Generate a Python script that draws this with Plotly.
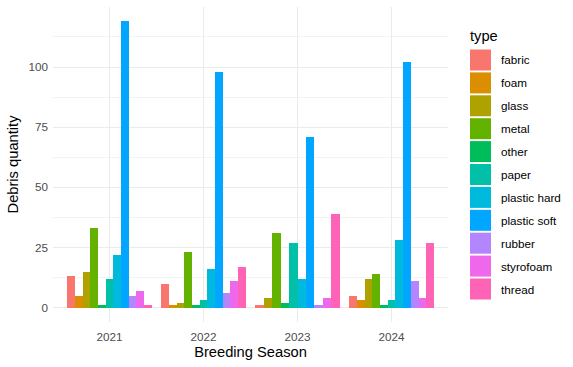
import plotly.graph_objects as go

years = [2021, 2022, 2023, 2024]
types = ["fabric", "foam", "glass", "metal", "other", "paper",
         "plastic hard", "plastic soft", "rubber", "styrofoam", "thread"]
colors = ["#F8766D", "#DB8E00", "#AEA200", "#64B200", "#00BD5C", "#00C1A7",
          "#00BADE", "#00A6FF", "#B385FF", "#EF67EB", "#FF63B6"]

# values per type, in year order (None = type not recorded that season)
fabric = [13, 10, 1, 5]
foam = [5, 1, None, 3]
glass = [15, 2, 4, 12]
metal = [33, 23, 31, 14]
other = [1, 1, 2, 1]
paper = [12, 3, 27, 3]
plastic_hard = [22, 16, 12, 28]
plastic_soft = [119, 98, 71, 102]
rubber = [5, 6, 1, 11]
styrofoam = [7, 11, 4, 4]
thread = [1, 17, 39, 27]

series = [fabric, foam, glass, metal, other, paper, plastic_hard,
          plastic_soft, rubber, styrofoam, thread]

W, H = 573, 367
ML, MR, MT, MB = 53, 125, 7, 45
PW, PH = W - ML - MR, H - MT - MB

fig = go.Figure()

# ggplot-style dodge: total width 0.9 split among the types present in each year
dodge = 0.9
present = [[t for t in range(len(types)) if series[t][j] is not None] for j in range(len(years))]
for t, (name, vals) in enumerate(zip(types, series)):
    xs, ys, ws = [], [], []
    for j, yr in enumerate(years):
        if vals[j] is None:
            continue
        n = len(present[j])
        k = present[j].index(t)
        w = dodge / n
        xs.append(yr - dodge / 2 + (k + 0.5) * w)
        ys.append(vals[j])
        ws.append(w)
    fig.add_trace(go.Bar(x=xs, y=ys, width=ws, name=name,
                         marker=dict(color=colors[t], line=dict(width=0)),
                         showlegend=False))

ymax = max(v for s in series for v in s if v is not None)
pad = 0.05 * ymax

# custom legend with ggplot-like large keys
def px2x(px):
    return (px - ML) / PW

def py2y(py):
    return (H - MB - py) / PH

shapes = []
annotations = []
annotations.append(dict(text="type", x=px2x(468), y=py2y(36), xref="paper", yref="paper",
                        xanchor="left", yanchor="middle", showarrow=False,
                        font=dict(size=14.7, color="black")))
key_top, pitch, key_h = 49.5, 22.9, 21
for i, name in enumerate(types):
    top = key_top + i * pitch
    shapes.append(dict(type="rect", xref="paper", yref="paper",
                       x0=px2x(470), x1=px2x(491), y0=py2y(top + key_h), y1=py2y(top),
                       fillcolor=colors[i], line=dict(width=0)))
    annotations.append(dict(text=name, x=px2x(499), y=py2y(top + key_h / 2),
                            xref="paper", yref="paper", xanchor="left", yanchor="middle",
                            showarrow=False, font=dict(size=11.7, color="black")))

fig.update_layout(
    width=W, height=H,
    margin=dict(l=ML, r=MR, t=MT, b=MB),
    paper_bgcolor="white", plot_bgcolor="white",
    font=dict(family="Liberation Sans, Arial, sans-serif"),
    bargap=0,
    shapes=shapes,
    annotations=annotations,
    xaxis=dict(
        range=[years[0] - 0.6, years[-1] + 0.6],
        tickmode="array", tickvals=years, ticktext=[str(y) for y in years],
        showgrid=True, gridcolor="#EBEBEB", gridwidth=1.1,
        zeroline=False, showline=False, ticks="",
        tickfont=dict(size=11.7, color="#4D4D4D"),
        ticklabelstandoff=6,
        title=dict(text="Breeding Season", font=dict(size=14.7, color="black"), standoff=5),
    ),
    yaxis=dict(
        range=[-pad, ymax + pad],
        tickmode="array", tickvals=[0, 25, 50, 75, 100],
        showgrid=True, gridcolor="#EBEBEB", gridwidth=1.1,
        minor=dict(tickmode="array", tickvals=[12.5, 37.5, 62.5, 87.5, 112.5],
                   showgrid=True, gridcolor="#F3F3F3", gridwidth=0.6),
        zeroline=False, showline=False, ticks="",
        tickfont=dict(size=11.7, color="#4D4D4D"),
        ticklabelstandoff=4,
        title=dict(text="Debris quantity", font=dict(size=14.7, color="black"), standoff=6),
    ),
)

fig.write_html("out.html", config={"displayModeBar": False},
               post_script="document.body.style.margin='0';")
